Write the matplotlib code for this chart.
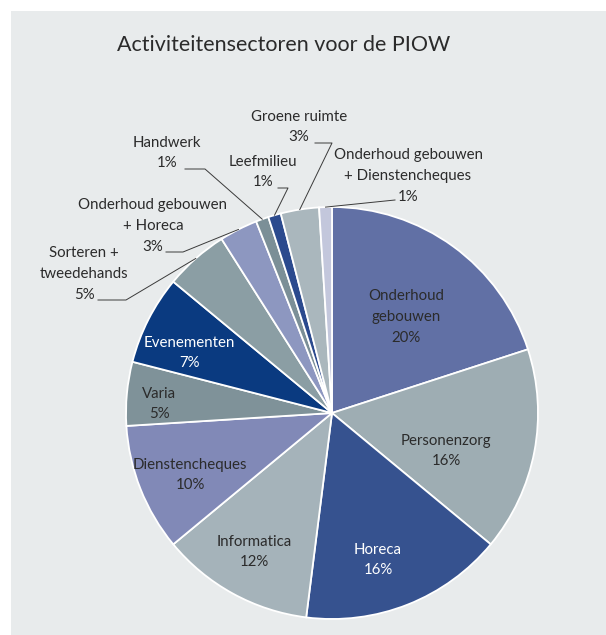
# -*- coding: utf-8 -*-
"""
Taartdiagram: activiteitensectoren voor de PIOW
"""

import numpy as np
import matplotlib
matplotlib.use('Agg')
import matplotlib.pyplot as plt
from matplotlib.patches import Rectangle

# data (met de klok mee vanaf 12 uur)
sectoren = ['Onderhoud\ngebouwen', 'Personenzorg', 'Horeca', 'Informatica',
            'Dienstencheques', 'Varia', 'Evenementen', 'Sorteren +\ntweedehands',
            'Onderhoud gebouwen\n+ Horeca', 'Handwerk', 'Leefmilieu',
            'Groene ruimte', 'Onderhoud gebouwen\n+ Dienstencheques']
percentages = [20, 16, 16, 12, 10, 5, 7, 5, 3, 1, 1, 3, 1]
kleuren = ['#6170a5', '#9eadb3', '#36528f', '#a5b3ba', '#8189b7', '#7f9299',
           '#0a3a80', '#8b9ea4', '#8d97c0', '#7b8f97', '#2b4a8e', '#aab7bd',
           '#c3c7dc']

W, H = 606, 635
FONT = ['Lato', 'DejaVu Sans']
TXT = '#2b2b2b'

fig = plt.figure(figsize=(W / 100, H / 100), dpi=100)
ax = fig.add_axes([0, 0, 1, 1])

# grijs paneel
ax.add_patch(Rectangle((11, 0), W - 11, H - 11, facecolor='#e8ebec',
                       edgecolor='none', zorder=0))

cx, cy, r = 332, H - 413, 206
wedges, _ = ax.pie(percentages, colors=kleuren, startangle=90, counterclock=False,
                   center=(cx, cy), radius=r, frame=True,
                   wedgeprops=dict(edgecolor='white', linewidth=1.3))
ax.set_xlim(0, W)
ax.set_ylim(0, H)
ax.set_aspect('equal')
ax.axis('off')

ax.text(284, H - 45, 'Activiteitensectoren voor de PIOW', ha='center',
        va='center', fontsize=15.5, color=TXT, family=FONT)

# labels binnen de taart (positie in pixels vanaf boven)
binnen = {0: (406, 317), 1: (446, 451), 2: (378, 560), 3: (254, 552),
          4: (190, 475), 5: (159, 404), 6: (189, 353)}
for i, (x, y) in binnen.items():
    kleur = 'white' if i in (2, 6) else TXT
    ax.text(x, H - y, f'{sectoren[i]}\n{percentages[i]}%', ha='center',
            va='center', fontsize=10.8, color=kleur, family=FONT,
            linespacing=1.6)


def rand_punt(i):
    # punt op de rand van de taart, midden van de sector
    a = (wedges[i].theta1 + wedges[i].theta2) / 2
    return cx + r * np.cos(np.radians(a)), cy + r * np.sin(np.radians(a))


# labels buiten de taart: tekstpositie, knikpunt van de lijn, begin van de lijn
buiten = {
    7: ((84, 274), (126, 300), (98, 300)),
    8: ((153, 226), (183, 252), (166, 252)),
    9: ((167, 153), (205, 169), (185, 169)),
    10: ((263, 172), (288, 188), (278, 188)),
    11: ((299, 127), (332, 143), (315, 143)),
    12: ((408, 176), (395, 200), (395, 200)),
}
for i, ((tx, ty), (kx, ky), (sx, sy)) in buiten.items():
    ax.text(tx, H - ty, f'{sectoren[i]}\n{percentages[i]}%', ha='center',
            va='center', fontsize=10.8, color=TXT, family=FONT,
            linespacing=1.6)
    px, py = rand_punt(i)
    ax.plot([sx, kx, px], [H - sy, H - ky, py], color='#3a3a3a', lw=0.7,
            zorder=5)

fig.savefig('out.png', dpi=100, facecolor='white')
